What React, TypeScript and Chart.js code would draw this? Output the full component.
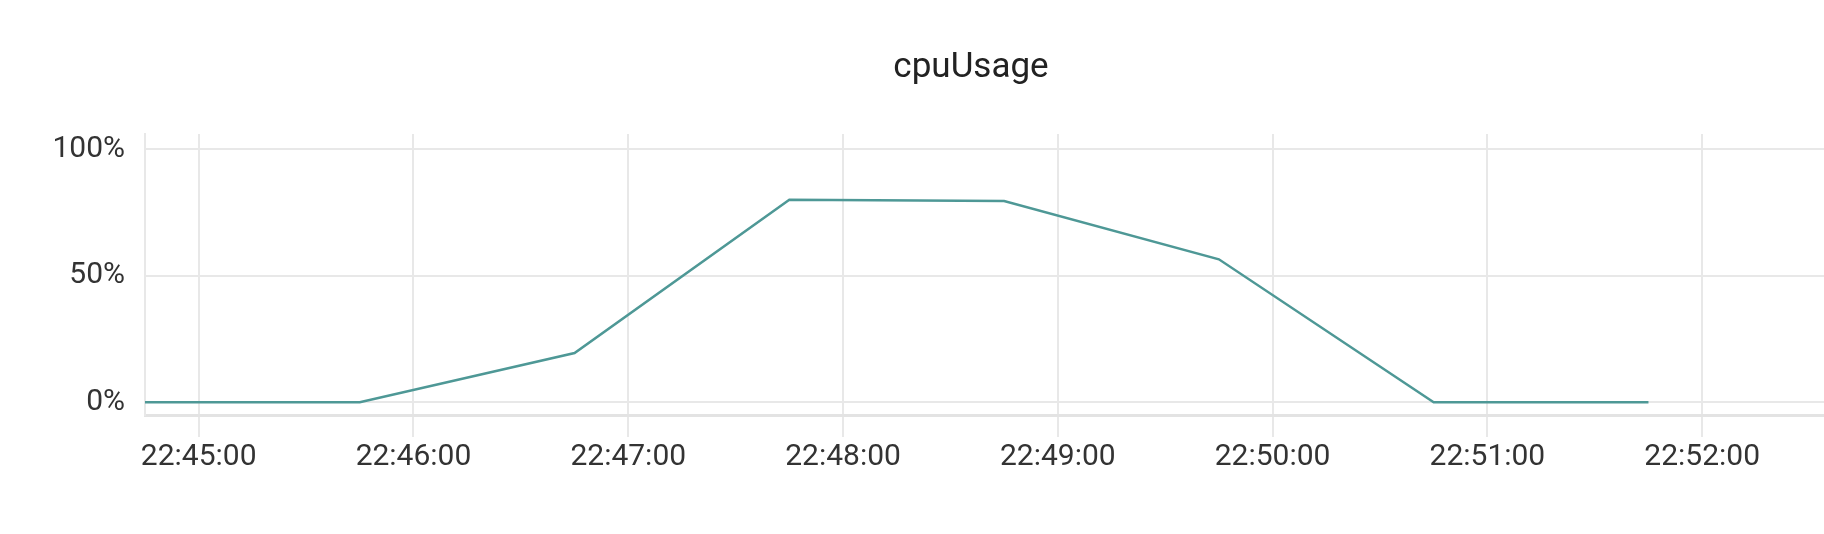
import { useEffect, useRef } from 'react';
import { Chart, registerables } from 'chart.js';

Chart.register(...registerables);

// sample times (hh:mm:ss) and cpu usage in percent
const sampleTimes = ['22:44:45', '22:45:45', '22:46:45', '22:47:45', '22:48:45', '22:49:45', '22:50:45', '22:51:45'];
const cpuUsage = [0, 0, 19.5, 80, 79.5, 56.5, 0, 0];

const xTickLabels = ['22:45:00', '22:46:00', '22:47:00', '22:48:00', '22:49:00', '22:50:00', '22:51:00', '22:52:00'];
const xRange = ['22:44:45', '22:53:07'];
const yTicks = [0, 50, 100];
const yRange = [-5, 106];

const toSec = (t: string) => {
  const [h, m, s] = t.split(':').map(Number);
  return h * 3600 + m * 60 + s;
};

const pad = (n: number) => String(n).padStart(2, '0');
const fmtTime = (sec: number) => {
  const h = Math.floor(sec / 3600);
  const m = Math.floor((sec % 3600) / 60);
  const s = Math.round(sec % 60);
  return `${pad(h)}:${pad(m)}:${pad(s)}`;
};

const FONT = 'Roboto, "Noto Sans", sans-serif';

export default function App() {
  const canvasRef = useRef<HTMLCanvasElement>(null);
  const chartRef = useRef<Chart | null>(null);

  useEffect(() => {
    if (!canvasRef.current) return;
    if (chartRef.current) chartRef.current.destroy();

    chartRef.current = new Chart(canvasRef.current, {
      type: 'line',
      data: {
        datasets: [{
          label: 'cpuUsage',
          data: sampleTimes.map((t, i) => ({ x: toSec(t), y: cpuUsage[i] })),
          borderColor: '#4e9896',
          borderWidth: 2.5,
          pointRadius: 0,
          tension: 0,
          fill: false
        }]
      },
      options: {
        animation: false,
        responsive: false,
        devicePixelRatio: 1,
        layout: { padding: 0 },
        plugins: {
          legend: { display: false },
          tooltip: { enabled: false },
          title: {
            display: true,
            text: 'cpuUsage',
            color: '#222',
            font: { family: FONT, size: 35, weight: 'normal' },
            padding: { top: 47, bottom: 45 }
          }
        },
        scales: {
          x: {
            type: 'linear',
            min: toSec(xRange[0]),
            max: toSec(xRange[1]),
            afterBuildTicks: (scale) => {
              scale.ticks = xTickLabels.map((l) => ({ value: toSec(l) }));
            },
            afterFit: (scale) => {
              scale.height = 119;
            },
            ticks: {
              autoSkip: false,
              maxRotation: 0,
              color: '#333',
              padding: 2,
              font: { family: FONT, size: 30 },
              callback: (v) => fmtTime(Number(v))
            },
            grid: {
              color: '#e8e8e8',
              lineWidth: 2,
              drawTicks: true,
              tickLength: 22
            },
            border: { display: true, color: '#e3e3e3', width: 3 }
          },
          y: {
            min: yRange[0],
            max: yRange[1],
            afterBuildTicks: (scale) => {
              scale.ticks = yTicks.map((v) => ({ value: v }));
            },
            afterFit: (scale) => {
              scale.width = 145;
            },
            ticks: {
              color: '#333',
              padding: 20,
              font: { family: FONT, size: 30 },
              callback: (v) => `${v}%`
            },
            grid: {
              color: '#e8e8e8',
              lineWidth: 2,
              drawTicks: false
            },
            border: { display: true, color: '#e8e8e8', width: 2 }
          }
        }
      }
    });

    return () => {
      if (chartRef.current) {
        chartRef.current.destroy();
        chartRef.current = null;
      }
    };
  }, []);

  return (
    <div style={{ position: 'fixed', left: 0, top: 0, width: 1824, height: 534, overflow: 'hidden', background: '#fff' }}>
      <canvas ref={canvasRef} width={1942} height={534} style={{ display: 'block', width: 1942, height: 534 }} />
    </div>
  );
}
